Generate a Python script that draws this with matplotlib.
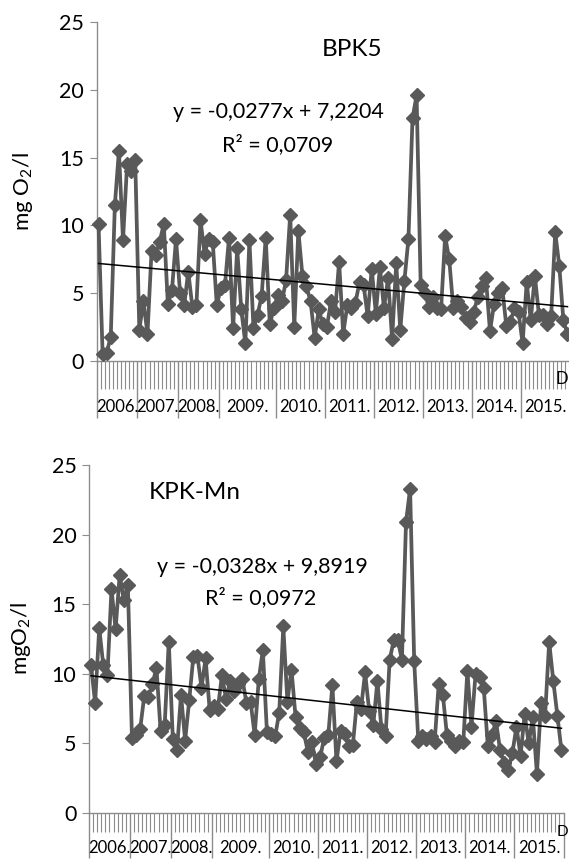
import numpy as np
import matplotlib
matplotlib.use("Agg")
import matplotlib.pyplot as plt

# category axis: years and how many samples each year has
years = ["2006.", "2007.", "2008.", "2009.", "2010.", "2011.",
         "2012.", "2013.", "2014.", "2015."]
year_counts = [10, 10, 10, 14, 12, 12, 12, 12, 12, 12]

# BPK5 (mg O2/l)
bpk5 = [10.1, 0.5, 0.6, 1.8, 11.5, 15.5, 8.9, 14.5, 14.0, 14.8,
        2.3, 4.4, 2.0, 8.1, 7.8, 8.8, 10.1, 4.2, 5.2, 9.0,
        5.0, 4.1, 6.6, 4.0, 4.1, 10.4, 7.9, 9.0, 8.8, 4.1,
        5.4, 5.6, 9.1, 2.4, 8.3, 3.8, 1.3, 8.9, 2.4, 3.4,
        4.8, 9.1, 2.7, 3.9, 4.9, 4.4, 6.0, 10.8, 2.5, 9.6,
        6.3, 5.5, 4.4, 1.7, 3.8, 2.7, 2.5, 4.4, 3.6, 7.3,
        2.0, 4.1, 3.9, 4.3, 5.8, 5.6, 3.3, 6.8, 3.5, 6.9,
        3.9, 6.1, 1.6, 7.2, 2.3, 5.9, 9.0, 17.9, 19.6, 5.6,
        5.0, 4.0, 4.7, 3.9, 3.8, 9.2, 7.5, 3.9, 4.4, 4.0,
        3.2, 2.9, 3.6, 4.7, 5.5, 6.1, 2.2, 4.2, 5.0, 5.4,
        2.6, 2.9, 3.9, 3.6, 1.3, 5.8, 3.0, 6.3, 3.4, 3.4,
        2.7, 3.3, 9.5, 7.0, 3.0, 2.0]

# KPK-Mn (mg O2/l)
kpk_mn = [10.6, 7.9, 13.3, 10.6, 9.9, 16.1, 13.2, 17.1, 15.3, 16.4,
          5.4, 5.6, 6.0, 8.4, 8.3, 9.3, 10.4, 5.9, 6.3, 12.3,
          5.3, 4.5, 8.5, 5.2, 8.1, 11.2, 11.3, 9.0, 11.1, 7.4,
          7.7, 7.5, 9.9, 8.2, 9.5, 8.8, 9.3, 9.6, 7.9, 8.0,
          5.6, 9.6, 11.7, 5.8, 5.7, 5.5, 7.2, 13.4, 8.0, 10.3,
          6.9, 6.1, 5.8, 4.4, 5.1, 3.5, 4.0, 5.4, 5.6, 9.2,
          3.7, 5.9, 5.7, 4.8, 4.9, 8.0, 7.5, 10.1, 7.3, 6.3,
          9.5, 6.0, 5.5, 11.0, 12.4, 12.4, 11.0, 20.9, 23.3, 10.9,
          5.2, 5.5, 5.3, 5.5, 5.1, 9.3, 8.5, 5.6, 5.2, 4.8,
          5.2, 5.1, 10.2, 6.2, 10.0, 9.8, 9.0, 4.8, 5.6, 6.6,
          4.5, 3.6, 3.1, 4.3, 6.2, 4.1, 7.1, 5.0, 6.9, 2.8,
          7.9, 7.0, 12.3, 9.5, 7.0, 4.5]

# linear trend lines as printed on the chart
bpk5_trend = (-0.0277, 7.2204, "y = -0,0277x + 7,2204", "R² = 0,0709")
kpk_trend = (-0.0328, 9.8919, "y = -0,0328x + 9,8919", "R² = 0,0972")

W, H = 569, 868
GRAY = "#595959"
AXIS_GRAY = "#8c8c8c"

plt.rcParams["font.family"] = ["Lato", "DejaVu Sans"]
plt.rcParams["mathtext.fontset"] = "custom"
plt.rcParams["mathtext.rm"] = "Lato"
plt.rcParams["mathtext.default"] = "regular"

fig = plt.figure(figsize=(W / 100, H / 100), dpi=100)


def px(x, y):
    return x / W, 1 - y / H


def draw_panel(box, values, trend, title, title_pos, eq_pos, ylabel, ylabel_pos,
               tick_len, sep_len, label_off):
    left, top, right, bottom = box
    ax = fig.add_axes([left / W, 1 - bottom / H, (right - left) / W, (bottom - top) / H])
    n = len(values)
    x = np.arange(1, n + 1)
    ax.plot(x, values, color=GRAY, lw=2.7, marker="D", ms=7, zorder=3, clip_on=False)
    slope, intercept, eq, r2 = trend
    ax.plot([x[0], x[-1]], [slope * x[0] + intercept, slope * x[-1] + intercept],
            color="black", lw=1.1, zorder=4)

    ax.set_xlim(0.5, n + 0.5)
    ax.set_ylim(0, 25)
    ax.set_yticks([0, 5, 10, 15, 20, 25])
    for s in ["top", "right"]:
        ax.spines[s].set_visible(False)
    for s in ["left", "bottom"]:
        ax.spines[s].set_color(AXIS_GRAY)
        ax.spines[s].set_linewidth(1.0)
    ax.tick_params(axis="y", direction="out", length=5, color=AXIS_GRAY,
                   labelsize=15.5, pad=4)

    # category boundaries (minor) and year separators (major)
    bounds = np.arange(0.5, n + 1.0, 1.0)
    edges = np.concatenate([[0.5], 0.5 + np.cumsum(year_counts)])
    ax.set_xticks(edges)
    ax.set_xticklabels([])
    ax.set_xticks(bounds, minor=True)
    ax.tick_params(axis="x", which="major", direction="out", length=sep_len * 0.72,
                   color=AXIS_GRAY, width=1.0)
    ax.tick_params(axis="x", which="minor", direction="out", length=tick_len * 0.72,
                   color=AXIS_GRAY, width=0.8)
    centers = (edges[:-1] + edges[1:]) / 2
    for yr, c in zip(years, centers):
        ax.annotate(yr, (c, 0), xycoords=("data", "axes fraction"),
                    xytext=(0, -label_off * 0.72), textcoords="offset points",
                    ha="center", va="center", fontsize=12)

    fig.text(*px(*title_pos), title, ha="center", va="center", fontsize=17.5)
    fig.text(*px(*eq_pos[0]), eq, ha="center", va="center", fontsize=15.5)
    fig.text(*px(*eq_pos[1]), r2, ha="center", va="center", fontsize=15.5)
    fig.text(*px(*ylabel_pos), ylabel, rotation=90,
             ha="center", va="center", fontsize=16)
    return ax


draw_panel((96.5, 22, 569.5, 361), bpk5, bpk5_trend, "BPK5", (352, 50),
           [(278, 112), (278, 145)], "mg O$_2$/l", (23, 192), 28, 57, 46)
draw_panel((89, 465, 563.5, 813), kpk_mn, kpk_trend, "KPK-Mn", (195, 493),
           [(262, 567), (261, 598)], "mgO$_2$/l", (21, 638), 19, 45, 35)

# axis captions at the right edge of the category axes
fig.text(*px(568, 379), "D", ha="right", va="center", fontsize=12)
fig.text(*px(568, 832), "D", ha="right", va="center", fontsize=11)

fig.savefig("out.png", dpi=100)
